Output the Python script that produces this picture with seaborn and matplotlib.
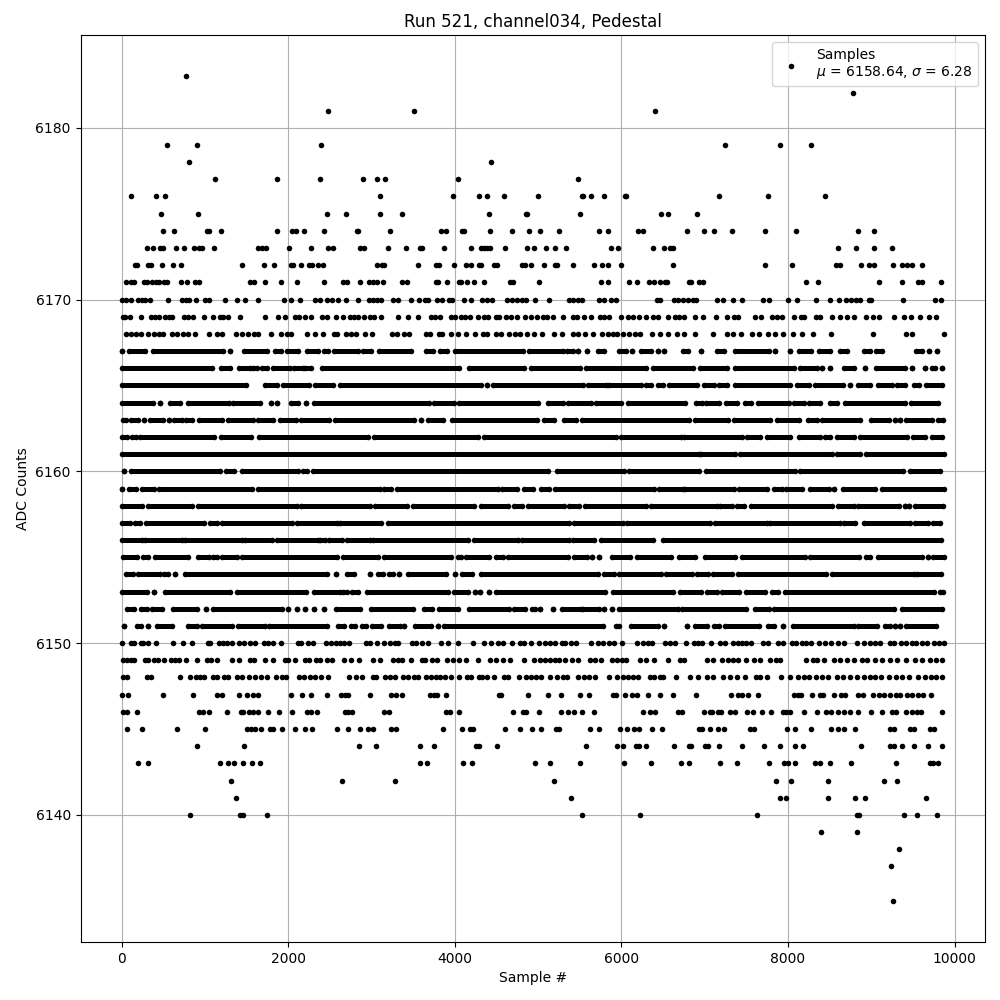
import matplotlib
matplotlib.use('Agg')
import matplotlib.pyplot as plt
import pandas as pd
import seaborn as sns

# ---------- sparse ADC levels: sample numbers ----------
sparse_levels = {}
sparse_levels[6183] = [776]
sparse_levels[6182] = [8776]
sparse_levels[6181] = [2480, 3508, 6400]
sparse_levels[6179] = [548, 908, 2396, 7248, 7904, 8275]
sparse_levels[6178] = [812, 4432]
sparse_levels[6177] = [1124, 1868, 2384, 2900, 3068, 3164, 4036, 5476]
sparse_levels[6176] = [116, 416, 524, 3104, 3976, 4288, 4384, 4588, 4996, 5524, 5544, 5632, 5788, 6040, 6060, 7176, 7760, 8440]
sparse_levels[6175] = [476, 920, 2468, 2696, 3104, 3364, 4408, 4852, 4864, 5500, 6472, 6556, 6912]
sparse_levels[6174] = [500, 632, 1028, 1048, 1196, 1868, 2048, 2096, 2192, 2432, 2828, 2840, 3224, 3832, 3892, 4084, 4108, 4420, 4684, 4888, 5020, 5248, 5728, 5836, 6196, 6256, 6784, 6997, 7117, 7330, 7725, 8095, 8836, 9038]
sparse_levels[6173] = [308, 380, 464, 500, 656, 752, 872, 932, 964, 1112, 1640, 1688, 1736, 2012, 2276, 2480, 2540, 2864, 2912, 3200, 3412, 3580, 3604, 3868, 4192, 4312, 4348, 4384, 4420, 4600, 4864, 4948, 5092, 5200, 5332, 5872, 5956, 6376, 6508, 6580, 6616, 8597, 8812, 9038, 9253]
sparse_levels[6172] = [164, 188, 320, 356, 488, 620, 716, 1448, 1712, 1832, 2036, 2060, 2156, 2252, 2288, 2360, 2420, 3068, 3128, 3152, 3556, 3772, 3808, 3988, 4132, 4192, 4288, 4312, 4468, 4504, 4804, 4840, 4912, 5068, 5200, 5224, 5416, 5668, 5764, 5836, 5992, 6616, 7725, 8048, 8573, 8621, 8872, 8967, 9027, 9266, 9373, 9433, 9493, 9612]
sparse_levels[6171] = [56, 116, 152, 272, 308, 368, 416, 452, 512, 548, 716, 788, 884, 932, 1544, 1592, 1724, 1916, 2108, 2432, 2660, 2708, 2864, 2972, 3020, 3068, 3140, 3364, 3424, 3772, 3796, 3904, 4048, 4072, 4144, 4228, 4348, 4660, 4696, 5008, 5752, 5836, 6088, 6184, 6328, 6388, 6460, 6520, 6544, 6808, 6830, 6937, 6985, 8215, 8358, 9087, 9373, 9564, 9612, 9839]
sparse_levels[6170] = [0, 56, 116, 200, 240, 284, 344, 560, 728, 776, 812, 896, 1004, 1052, 1244, 1388, 1484, 1640, 1952, 2036, 2144, 2324, 2384, 2468, 2528, 2600, 2696, 2840, 2972, 3020, 3068, 3116, 3260, 3320, 3472, 3568, 3640, 3676, 3784, 3844, 3928, 3964, 4108, 4192, 4324, 4384, 4444, 4624, 4684, 4744, 4804, 4852, 4960, 5128, 5368, 5416, 5476, 5524, 5728, 5788, 5872, 5932, 6424, 6460, 6628, 6676, 6736, 6794, 6854, 6890, 7152, 7224, 7343, 7450, 7700, 7773, 8000, 8107, 8334, 8500, 8609, 8692, 8752, 8812, 8868, 8967, 8991, 9385, 9767, 9839]
sparse_levels[6169] = [20, 44, 104, 232, 356, 404, 452, 524, 572, 608, 752, 800, 860, 992, 1100, 1184, 1220, 1280, 1424, 1724, 1880, 1964, 2084, 2132, 2204, 2276, 2408, 2468, 2576, 2660, 2744, 2792, 2840, 2912, 2984, 3032, 3116, 3320, 3436, 3556, 3712, 3760, 3820, 3952, 4000, 4072, 4120, 4180, 4276, 4348, 4396, 4492, 4528, 4612, 4672, 4744, 4840, 4912, 4984, 5056, 5104, 5176, 5296, 5416, 5464, 5548, 5632, 5740, 5788, 5848, 5992, 6076, 6136, 6208, 6296, 6376, 6436, 6556, 6640, 6688, 6748, 6878, 6985, 7140, 7272, 7355, 7403, 7606, 7678, 7809, 7869, 7928, 8072, 8155, 8191, 8334, 8382, 8525, 8621, 8704, 8788, 8932, 9015, 9087, 9278, 9397, 9481, 9588, 9695, 9779]
sparse_levels[6168] = [56, 116, 176, 236, 320, 392, 452, 500, 608, 668, 740, 800, 884, 1052, 1148, 1208, 1376, 1448, 1520, 1592, 1640, 1796, 1916, 1988, 2036, 2228, 2324, 2420, 2552, 2588, 2696, 2756, 2816, 2924, 3008, 3248, 3308, 3388, 3448, 3652, 3700, 3808, 3844, 3952, 4036, 4132, 4240, 4336, 4384, 4492, 4552, 4648, 4720, 4780, 4864, 4948, 5044, 5188, 5284, 5416, 5476, 5560, 5656, 5764, 5836, 5896, 5944, 6016, 6088, 6160, 6220, 6364, 6460, 6556, 6664, 6748, 6878, 7105, 7272, 7343, 7439, 7570, 7654, 7761, 7845, 7940, 8060, 8167, 8298, 8513, 9015, 9421, 9493, 9870]
sparse_levels[6150] = [0, 116, 152, 236, 260, 320, 416, 620, 740, 848, 1040, 1064, 1172, 1220, 1268, 1328, 1412, 1472, 1544, 1604, 1712, 1760, 1820, 1916, 2120, 2156, 2240, 2300, 2456, 2516, 2576, 2624, 2672, 2732, 2936, 2984, 3068, 3152, 3224, 3284, 3320, 3484, 3532, 3604, 3676, 3832, 3916, 4036, 4216, 4348, 4432, 4516, 4576, 4684, 4780, 4828, 4912, 5008, 5080, 5140, 5200, 5284, 5320, 5392, 5452, 5632, 5716, 5776, 5848, 5908, 6004, 6184, 6256, 6316, 6364, 6524, 6584, 6644, 6772, 6876, 6924, 6972, 7076, 7184, 7244, 7340, 7400, 7448, 7496, 7556, 7700, 7760, 7880, 7940, 8048, 8096, 8168, 8216, 8276, 8372, 8444, 8516, 8600, 8672, 8828, 8912, 8984, 9044, 9104, 9224, 9272, 9356, 9416, 9488, 9536, 9608, 9668, 9752, 9812, 9872]
sparse_levels[6149] = [20, 68, 116, 152, 284, 320, 392, 440, 512, 596, 644, 692, 776, 908, 1028, 1076, 1148, 1328, 1412, 1544, 1592, 1724, 1820, 1964, 2000, 2084, 2204, 2252, 2336, 2384, 2468, 2528, 2672, 2756, 2852, 3020, 3104, 3260, 3320, 3364, 3472, 3604, 3640, 3724, 3784, 3904, 3976, 4048, 4132, 4276, 4420, 4492, 4576, 4660, 4828, 4948, 5020, 5080, 5140, 5200, 5248, 5320, 5404, 5476, 5620, 5680, 5752, 5884, 5944, 6004, 6052, 6220, 6292, 6388, 6556, 6700, 6748, 7028, 7100, 7208, 7280, 7340, 7400, 7496, 7592, 7664, 7784, 7856, 7904, 8216, 8300, 8348, 8432, 8552, 8624, 8708, 8792, 8888, 8948, 9044, 9128, 9224, 9308, 9416, 9524, 9608, 9704, 9776, 9848]
sparse_levels[6148] = [20, 68, 308, 356, 704, 824, 896, 944, 992, 1100, 1148, 1232, 1280, 1388, 1448, 1532, 1604, 1676, 1748, 1856, 1928, 1976, 2132, 2192, 2264, 2324, 2396, 2480, 2732, 2816, 2888, 3020, 3056, 3164, 3224, 3284, 3376, 3436, 3508, 3556, 3652, 3712, 3772, 3820, 3880, 3952, 4048, 4144, 4192, 4288, 4324, 4384, 4468, 4588, 4636, 4768, 4852, 4912, 4972, 5032, 5140, 5224, 5296, 5344, 5476, 5548, 5608, 5680, 5848, 5944, 6016, 6076, 6136, 6196, 6340, 6388, 6460, 6496, 6652, 6824, 6920, 7028, 7100, 7220, 7304, 7388, 7484, 7616, 7664, 7748, 7916, 8024, 8120, 8192, 8252, 8336, 8408, 8480, 8588, 8660, 8744, 8828, 8912, 8984, 9044, 9116, 9212, 9296, 9368, 9452, 9560, 9644, 9716, 9776, 9848]
sparse_levels[6147] = [0, 80, 500, 860, 1148, 1208, 1412, 1508, 1580, 1640, 2036, 2168, 2276, 2468, 2636, 2684, 2720, 2984, 3236, 3296, 3364, 3700, 3748, 3784, 3892, 4528, 4552, 4876, 5116, 5272, 5500, 5616, 5896, 5932, 6040, 6124, 6184, 6316, 6460, 6616, 6900, 7320, 7404, 7448, 7520, 7640, 8072, 8120, 8156, 8288, 8384, 8420, 8552, 8636, 8684, 8840, 8900, 9020, 9092, 9152, 9224, 9296, 9344, 9428, 9488, 9560, 9620, 9716]
sparse_levels[6146] = [20, 68, 188, 932, 980, 1052, 1268, 1436, 1460, 1532, 1580, 1640, 1760, 1892, 2048, 2228, 2276, 2348, 2684, 2720, 2768, 3152, 3212, 3892, 3940, 4048, 4696, 4816, 4852, 5008, 5272, 5356, 5428, 5524, 5668, 6256, 6340, 6400, 6676, 6724, 6992, 7064, 7088, 7160, 7196, 7304, 7364, 7508, 7580, 7688, 7796, 7940, 7976, 8024, 8192, 8348, 8456, 8516, 8600, 8672, 8744, 8840, 8996, 9128, 9248, 9296, 9416, 9488, 9548, 9596, 9848]
sparse_levels[6145] = [68, 248, 668, 1004, 1508, 1556, 1604, 1676, 1784, 1820, 1928, 2084, 2204, 2288, 2588, 2720, 2864, 2960, 3020, 3236, 3296, 3856, 4084, 4180, 4216, 4600, 4780, 4924, 5032, 5212, 5248, 5620, 5728, 5980, 6064, 6148, 6208, 6364, 6484, 6932, 6968, 7064, 7160, 7232, 7544, 7592, 7988, 8084, 8276, 8516, 8600, 8672, 8804, 9224, 9272, 9464, 9512, 9704, 9752]
sparse_levels[6144] = [908, 1472, 2852, 3056, 3580, 3748, 4252, 4288, 4504, 5572, 5944, 6016, 6172, 6208, 6292, 6628, 6808, 6836, 7004, 7040, 7172, 7448, 7712, 7904, 8084, 8180, 8876, 9224, 9272, 9368, 9512, 9680, 9848]
sparse_levels[6143] = [200, 320, 1184, 1280, 1352, 1460, 1568, 1664, 3580, 3664, 4096, 4204, 4960, 5140, 5500, 6028, 6352, 6712, 6812, 7184, 7388, 7772, 7952, 8000, 8084, 8324, 8384, 8504, 8756, 9296, 9704, 9740, 9800]
sparse_levels[6142] = [1316, 2648, 3284, 5188, 7856, 8036, 8480, 9152, 9308]
sparse_levels[6141] = [1376, 5392, 7904, 7976, 8480, 8804, 8924, 9656]
sparse_levels[6140] = [824, 1424, 1460, 1748, 5524, 6220, 7628, 8828, 8852, 9392, 9548, 9788]
sparse_levels[6139] = [8396, 8828]
sparse_levels[6138] = [9332]
sparse_levels[6137] = [9236]
sparse_levels[6135] = [9260]

# ---------- dense ADC levels: (first, last) sample of each unbroken stretch ----------
dense_levels = {}
dense_levels[6167] = [(8, 8), (84, 276), (372, 1220), (1304, 1304), (1472, 1748), (1844, 1916), (1984, 2116), (2224, 2356), (2432, 2476), (2548, 2836), (2904, 2996), (3092, 3480), (3652, 3736), (3820, 3904), (4000, 4816), (4888, 5296), (5348, 5416), (5484, 5484), (5584, 5584), (5716, 5796), (5968, 6056), (6128, 6128), (6232, 6356), (6436, 6436), (6516, 6516), (6736, 6796), (6956, 6956), (7148, 7228), (7360, 7768), (7848, 7848), (8020, 8020), (8128, 8280), (8376, 8508), (8628, 8708), (8912, 8984), (9056, 9128), (9536, 9608), (9688, 9688), (9788, 9788)]
dense_levels[6166] = [(4, 1084), (1196, 1300), (1412, 1540), (1580, 1620), (1684, 1748), (1820, 2020), (2072, 2172), (2204, 2268), (2404, 4048), (4168, 4836), (4920, 5504), (5576, 6296), (6376, 6856), (6944, 7268), (7368, 8068), (8148, 8348), (8408, 8408), (8508, 8508), (8668, 8788), (8920, 8920), (9056, 9408), (9488, 9488), (9640, 9640), (9728, 9768), (9848, 9848)]
dense_levels[6165] = [(4, 1492), (1720, 1860), (1940, 2252), (2320, 2540), (2620, 4316), (4384, 4384), (4456, 5536), (5596, 5816), (5856, 6236), (6296, 6356), (6436, 6496), (6576, 6908), (6992, 7108), (7168, 7268), (7360, 8020), (8108, 8248), (8320, 8656), (8744, 8744), (8840, 8988), (9076, 9248), (9308, 9408), (9508, 9576), (9656, 9848)]
dense_levels[6164] = [(0, 372), (464, 464), (580, 700), (800, 1284), (1332, 1660), (1796, 1796), (1868, 1868), (2032, 2120), (2216, 2216), (2308, 3696), (3756, 3996), (4056, 4996), (5116, 5296), (5356, 5636), (5696, 5996), (6076, 6768), (6896, 6968), (7016, 7168), (7256, 7388), (7480, 7560), (7640, 8008), (8068, 8188), (8248, 8388), (8508, 8588), (8680, 9408), (9480, 9800)]
dense_levels[6163] = [(12, 52), (108, 196), (272, 272), (344, 500), (572, 572), (632, 724), (776, 844), (928, 1204), (1276, 1580), (1640, 1812), (1904, 2092), (2152, 2492), (2560, 3516), (3592, 3592), (3676, 3864), (3968, 4984), (5076, 5196), (5316, 5456), (5524, 6808), (6880, 7280), (7348, 7788), (7868, 8136), (8240, 8348), (8408, 8868), (8996, 9216), (9288, 9288), (9348, 9348), (9420, 9728), (9800, 9860)]
dense_levels[6162] = [(4, 60), (120, 172), (220, 1108), (1196, 1548), (1652, 2960), (3032, 4276), (4356, 5936), (5996, 6716), (6748, 7448), (7508, 7660), (7748, 8028), (8128, 8388), (8448, 8508), (8588, 8788), (8860, 9428), (9496, 9648), (9728, 9848)]
dense_levels[6161] = [(4, 6928), (6960, 7368), (7420, 8528), (8588, 8860), (8932, 9868)]
dense_levels[6160] = [(32, 32), (112, 1180), (1256, 1348), (1448, 2120), (2180, 2228), (2300, 5116), (5224, 6036), (6096, 6928), (7016, 8080), (8140, 9376), (9460, 9828)]
dense_levels[6159] = [(8, 8), (84, 172), (248, 388), (452, 1560), (1640, 3100), (3148, 3240), (3308, 4516), (4564, 4744), (4828, 4944), (5032, 5136), (5208, 6396), (6448, 6736), (6768, 7348), (7408, 7748), (7828, 7928), (7976, 8168), (8268, 8488), (8548, 8548), (8656, 9040), (9128, 9868)]
dense_levels[6158] = [(8, 244), (316, 844), (920, 2100), (2152, 2980), (3044, 3424), (3496, 4236), (4312, 4636), (4716, 4808), (4876, 5316), (5376, 5488), (5568, 6296), (6360, 7148), (7188, 7328), (7388, 7468), (7556, 8528), (8600, 8788), (8840, 9328), (9408, 9408), (9456, 9456), (9520, 9860)]
dense_levels[6157] = [(8, 100), (160, 220), (292, 988), (1060, 1148), (1204, 2040), (2108, 2580), (2620, 3120), (3200, 5376), (5436, 6016), (6064, 7060), (7120, 7748), (7788, 8628), (8668, 8808), (8912, 9468), (9520, 9680), (9736, 9828)]
dense_levels[6156] = [(0, 240), (280, 720), (760, 1440), (1480, 1800), (1860, 2360), (2380, 2440), (2488, 2640), (2704, 2980), (3020, 4156), (4236, 4756), (4808, 5368), (5424, 5676), (5756, 6384), (6504, 9836)]
dense_levels[6155] = [(20, 188), (260, 316), (400, 796), (920, 1048), (1100, 1140), (1204, 1380), (1448, 2580), (2660, 3080), (3152, 3956), (4036, 4076), (4136, 4408), (4496, 4576), (4636, 5356), (5428, 5584), (5644, 5644), (5736, 5736), (5888, 6108), (6184, 6596), (6696, 6888), (7000, 7360), (7448, 8208), (8260, 8848), (8936, 8988), (9076, 9608), (9680, 9680), (9740, 9868)]
dense_levels[6154] = [(52, 140), (196, 460), (512, 556), (644, 644), (760, 2460), (2572, 2572), (2708, 2788), (2984, 2984), (3080, 3140), (3212, 3260), (3332, 3336), (3436, 3896), (4000, 4000), (4084, 4204), (4312, 5716), (5788, 5916), (5968, 6476), (6536, 6848), (6908, 7040), (7096, 7328), (7400, 8460), (8528, 9508), (9548, 9836)]
dense_levels[6153] = [(8, 308), (388, 388), (520, 1300), (1384, 2212), (2312, 2620), (2660, 2708), (2768, 2840), (2944, 3916), (3996, 4156), (4240, 4240), (4304, 4304), (4416, 4416), (4496, 5808), (5896, 6616), (6704, 6960), (7028, 7148), (7208, 7416), (7496, 7720), (7808, 7880), (7960, 9748), (9828, 9856)]
dense_levels[6152] = [(68, 148), (236, 308), (360, 480), (620, 900), (1008, 1008), (1100, 1920), (2000, 2000), (2108, 2108), (2204, 2204), (2312, 2312), (2432, 2432), (2572, 2860), (2992, 3504), (3636, 3728), (3808, 4036), (4176, 4648), (4716, 4848), (4924, 4968), (5028, 5028), (5176, 5176), (5284, 5516), (5544, 5736), (5796, 5796), (5884, 5884), (5976, 6676), (6728, 7500), (7600, 7768), (7828, 9268), (9368, 9848)]
dense_levels[6151] = [(32, 32), (188, 236), (320, 320), (428, 604), (800, 908), (960, 1324), (1400, 1720), (1772, 2460), (2596, 2668), (2756, 2800), (2888, 2940), (3008, 3120), (3212, 3340), (3388, 3388), (3528, 3716), (3796, 3796), (3876, 5776), (5936, 5976), (6116, 6436), (6508, 6508), (6784, 6784), (6880, 7028), (7108, 7168), (7240, 7648), (7760, 7828), (7936, 7936), (8060, 8796), (8840, 9068), (9160, 9228), (9288, 9288), (9348, 9348), (9416, 9780)]

# ---------- table of the points ----------
rows = []
for level, samples in sparse_levels.items():
    rows += [(s, level) for s in samples]
for level, runs in dense_levels.items():
    for first, last in runs:
        rows += [(first, level), (last, level)]
df = pd.DataFrame(rows, columns=['sample', 'adc'])

# ---------- plot ----------
fig, ax = plt.subplots(figsize=(10, 10), dpi=100)

sns.scatterplot(
    data=df, x='sample', y='adc', ax=ax, color='black', s=16, linewidth=0,
    zorder=3, label='Samples\n$\\mu$ = 6158.64, $\\sigma$ = 6.28'
)
for level, runs in dense_levels.items():
    ax.hlines([level] * len(runs), [r[0] for r in runs], [r[1] for r in runs],
              color='black', linewidth=3.6, zorder=3)

ax.set_title('Run 521, channel034, Pedestal')
ax.set_xlabel('Sample #')
ax.set_ylabel('ADC Counts')
ax.grid(True)
ax.legend(loc='upper right')

fig.subplots_adjust(left=0.0805, right=0.985, top=0.965, bottom=0.058)
plt.savefig('out.png')
